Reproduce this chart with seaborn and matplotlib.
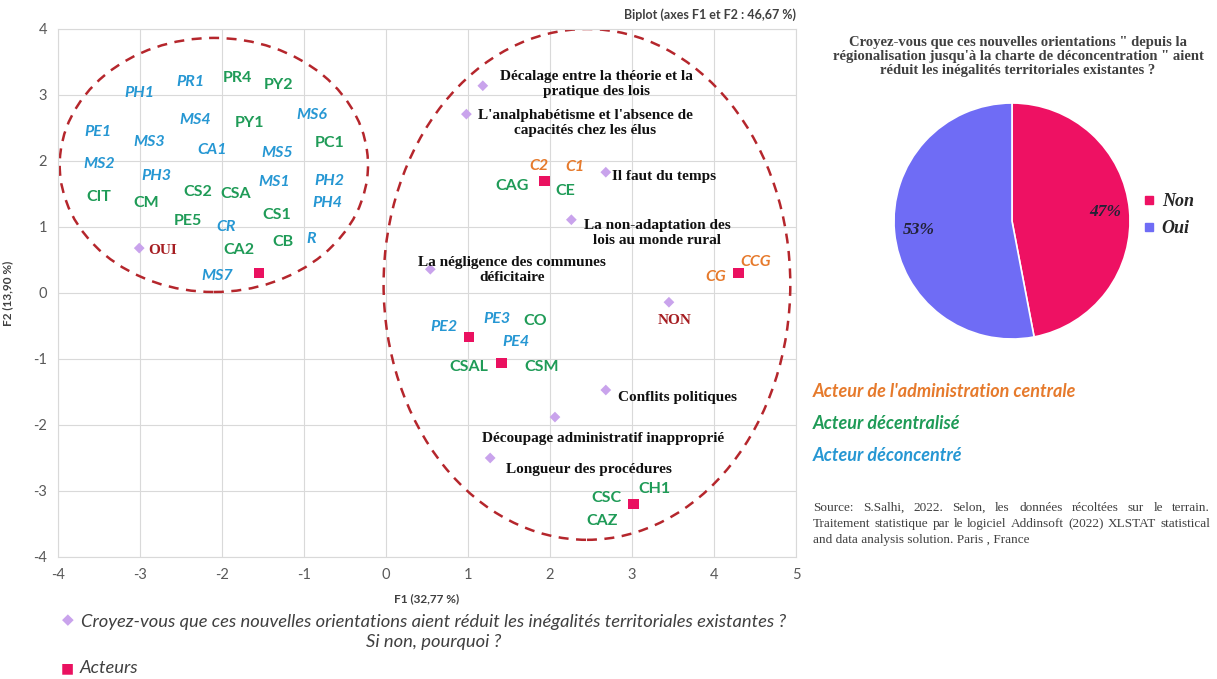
import matplotlib
matplotlib.use("Agg")
import matplotlib.pyplot as plt
from matplotlib.patches import Ellipse
from matplotlib.lines import Line2D
import pandas as pd
import seaborn as sns

# --- data (F1, F2 coordinates) ---
question_names = ["OUI", "NON",
                  "Décalage entre la théorie et la\npratique des lois",
                  "L'analphabétisme et l'absence de\ncapacités chez les élus",
                  "Il faut du temps",
                  "La non-adaptation des\nlois au monde rural",
                  "La négligence des communes\ndéficitaire",
                  "Conflits politiques",
                  "Découpage administratif inapproprié",
                  "Longueur des procédures"]
question_x = [-3.01, 3.45, 1.18, 0.98, 2.68, 2.26, 0.54, 2.68, 2.06, 1.27]
question_y = [0.68, -0.14, 3.14, 2.71, 1.83, 1.11, 0.36, -1.47, -1.88, -2.50]
# where each modality's label sits
question_text_x = [-2.73, 3.52, 2.57, 2.43, 2.75, 3.31, 1.54, 3.56, 2.65, 2.47]
question_text_y = [0.65, -0.42, 3.17, 2.58, 1.76, 0.91, 0.35, -1.59, -2.21, -2.67]

actor_x = [-1.55, 1.93, 4.30, 1.01, 1.41, 3.02]
actor_y = [0.30, 1.70, 0.30, -0.67, -1.06, -3.20]

central_names = ["C2", "C1", "CG", "CCG"]
central_x = [1.86, 2.30, 4.02, 4.51]
central_y = [1.92, 1.91, 0.24, 0.47]

decentral_names = ["PR4", "PY2", "PY1", "PC1", "CIT", "CM", "CS2", "CSA", "PE5", "CS1",
                   "CB", "CA2", "CAG", "CE", "CO", "CSAL", "CSM", "CSC", "CH1", "CAZ"]
decentral_x = [-1.81, -1.31, -1.67, -0.69, -3.50, -2.93, -2.30, -1.83, -2.42, -1.33,
               -1.26, -1.80, 1.54, 2.18, 1.82, 1.01, 1.90, 2.69, 3.27, 2.64]
decentral_y = [3.26, 3.15, 2.58, 2.27, 1.45, 1.36, 1.53, 1.50, 1.09, 1.18,
               0.77, 0.65, 1.62, 1.55, -0.42, -1.12, -1.12, -3.11, -2.97, -3.45]

deconc_names = ["PR1", "PH1", "PE1", "MS4", "MS3", "CA1", "MS6", "MS5", "MS2", "PH3",
                "MS1", "PH2", "PH4", "CR", "R", "MS7", "PE2", "PE3", "PE4"]
deconc_x = [-2.39, -3.01, -3.51, -2.33, -2.89, -2.12, -0.91, -1.33, -3.50, -2.80,
            -1.37, -0.69, -0.72, -1.95, -0.91, -2.06, 0.71, 1.35, 1.59]
deconc_y = [3.20, 3.03, 2.44, 2.62, 2.29, 2.17, 2.70, 2.12, 1.95, 1.77,
            1.68, 1.70, 1.36, 1.00, 0.82, 0.26, -0.52, -0.39, -0.74]

# groups circled on the biplot: centre x, centre y, width, height
groups_cx = [-2.10, 2.45]
groups_cy = [1.94, 0.13]
groups_w = [3.76, 4.96]
groups_h = [3.85, 7.74]

pie_labels = ["Non", "Oui"]
pie_values = [47, 53]

source_lines = ["Source: S.Salhi, 2022. Selon, les données récoltées sur le terrain.",
                "Traitement statistique par le logiciel Addinsoft (2022) XLSTAT statistical",
                "and data analysis solution. Paris , France"]

# --- colours ---
c_diamond = "#c9a3ec"
c_square = "#ea1160"
c_central = "#e67a2c"
c_decentral = "#1f9b57"
c_deconc = "#2697d3"
c_ring = "#b5262c"
c_yesno = "#a61e22"

sns.set_style("whitegrid")
plt.rcParams["font.family"] = ["Lato", "DejaVu Sans"]
plt.rcParams["axes.unicode_minus"] = False

fig = plt.figure(figsize=(12.17, 6.79), dpi=100)
ax = fig.add_axes([0.0477, 0.1797, 0.6064, 0.7776])

q_df = pd.DataFrame({"F1": question_x, "F2": question_y})
a_df = pd.DataFrame({"F1": actor_x, "F2": actor_y})
sns.scatterplot(data=q_df, x="F1", y="F2", marker="D", s=30, color=c_diamond,
                edgecolor="none", ax=ax, zorder=3)
sns.scatterplot(data=a_df, x="F1", y="F2", marker="s", s=58, color=c_square,
                edgecolor="none", ax=ax, zorder=3)

ax.set_xlim(-4, 5)
ax.set_ylim(-4, 4)
ax.set_xticks(range(-4, 6))
ax.set_yticks(range(-4, 5))
ax.grid(True, color="#d9d9d9", linewidth=0.8)
for sp in ax.spines.values():
    sp.set_color("#d9d9d9")
    sp.set_linewidth(0.8)
ax.tick_params(axis="both", length=0, labelsize=10.5, labelcolor="#595959", pad=8)
ax.set_xlabel("F1 (32,77 %)", fontsize=8.5, fontweight="bold", color="#404040", labelpad=8)
ax.set_ylabel("F2 (13,90 %)", fontsize=8.5, fontweight="bold", color="#404040", labelpad=14)
ax.set_title("Biplot (axes F1 et F2 : 46,67 %)", fontsize=9, fontweight="bold",
             color="#404040", loc="right", pad=7)

for cx, cy, w, h in zip(groups_cx, groups_cy, groups_w, groups_h):
    ax.add_patch(Ellipse((cx, cy), w, h, fill=False, edgecolor=c_ring,
                         linewidth=1.8, linestyle=(0, (4, 3)), zorder=2))

serif = ["Liberation Serif", "DejaVu Serif"]
for name, tx, ty in zip(question_names, question_text_x, question_text_y):
    if name in ("OUI", "NON"):
        ax.text(tx, ty, name, ha="center", va="center", family=serif,
                fontweight="bold", fontsize=11, color=c_yesno, zorder=4)
    else:
        ha = "left" if name == "Il faut du temps" else "center"
        ax.text(tx, ty, name, ha=ha, va="center", family=serif, fontweight="bold",
                fontsize=11, color="#111111", linespacing=1.2, zorder=4)

for names, xs, ys, col, style in [
        (central_names, central_x, central_y, c_central, "italic"),
        (decentral_names, decentral_x, decentral_y, c_decentral, "normal"),
        (deconc_names, deconc_x, deconc_y, c_deconc, "italic")]:
    for n, x, y in zip(names, xs, ys):
        ax.text(x, y, n, ha="center", va="center", fontsize=11.5,
                fontweight="bold", fontstyle=style, color=col, zorder=4)

# bottom legend of the biplot
fig.text(0.0555, 0.0871, "\u25C6", fontsize=11, color=c_diamond, ha="center", va="center")
fig.text(0.356, 0.0692,
         "Croyez-vous que ces nouvelles orientations aient réduit les inégalités territoriales existantes ?\nSi non, pourquoi ?",
         ha="center", va="center", fontsize=13.2, fontstyle="italic", color="#404040",
         linespacing=1.3)
fig.text(0.0555, 0.0162, "\u25A0", fontsize=10, color=c_square, ha="center", va="center")
fig.text(0.0657, 0.0162, "Acteurs", ha="left", va="center", fontsize=13.2,
         fontstyle="italic", color="#404040")

# actor type legend
for i, (txt, col) in enumerate([("Acteur de l'administration centrale", c_central),
                                ("Acteur décentralisé", c_decentral),
                                ("Acteur déconcentré", c_deconc)]):
    fig.text(0.668, 0.424 - i * 0.0471, txt, ha="left", va="center", fontsize=13,
             fontweight="bold", fontstyle="italic", color=col)

# justified source note
renderer = fig.canvas.get_renderer()
src_kw = dict(family=serif, fontsize=9.5, color="#404040", va="center", ha="left")
x_left, x_right = 0.668, 0.9942
for i, line in enumerate(source_lines):
    y = 0.2518 - i * 0.0236
    if i == len(source_lines) - 1:
        fig.text(x_left, y, line, **src_kw)
        continue
    words = [fig.text(0, y, w, **src_kw) for w in line.split()]
    widths = [t.get_window_extent(renderer).width / fig.bbox.width for t in words]
    gap = (x_right - x_left - sum(widths)) / (len(words) - 1)
    x = x_left
    for t, w in zip(words, widths):
        t.set_x(x)
        x += w + gap

# pie chart
pax = fig.add_axes([0.7346, 0.5007, 0.1939, 0.3476])
wedges, _, autotexts = pax.pie(pie_values, colors=["#ee1163", "#6f6cf5"],
                               startangle=90, counterclock=False,
                               autopct=lambda p: f"{round(p)}%", pctdistance=0.79,
                               wedgeprops={"edgecolor": "white", "linewidth": 1.2})
for t in autotexts:
    t.set_fontfamily(serif)
    t.set_fontweight("bold")
    t.set_fontstyle("italic")
    t.set_fontsize(12.5)
    t.set_color("#222236")
pax.set_xlim(-1, 1)
pax.set_ylim(-1, 1)
pax.set_aspect("equal")

fig.text(0.8365, 0.9175,
         "Croyez-vous que ces nouvelles orientations \" depuis la\n"
         "régionalisation jusqu'à la charte de déconcentration \" aient\n"
         "réduit les inégalités territoriales existantes ?",
         ha="center", va="center", family=serif, fontweight="bold", fontsize=10.5,
         color="#404040", linespacing=1.1)

handles = [Line2D([], [], marker="s", linestyle="none", markersize=6,
                  markerfacecolor=c, markeredgecolor=c) for c in ["#ee1163", "#6f6cf5"]]
fig.legend(handles, pie_labels, loc="center left", bbox_to_anchor=(0.925, 0.683),
           frameon=False, handletextpad=0.3, labelspacing=0.55, handlelength=0.8,
           prop={"family": serif, "weight": "bold", "style": "italic", "size": 13})

fig.savefig("out.png", dpi=100)
